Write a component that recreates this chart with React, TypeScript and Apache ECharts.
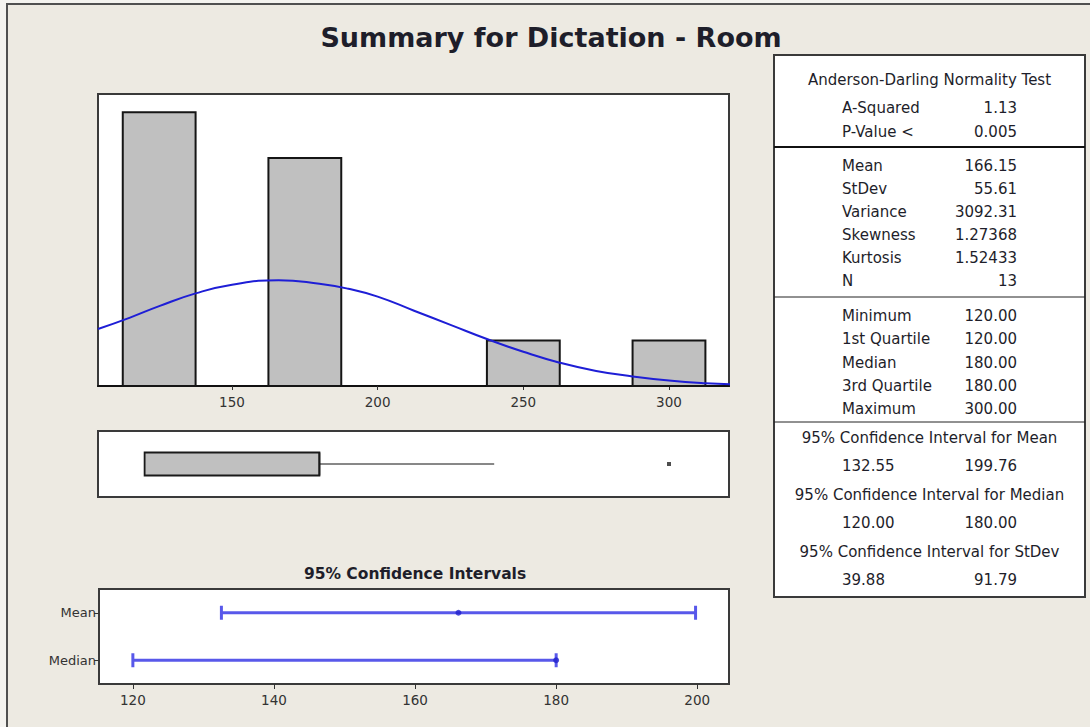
import React, { useEffect, useRef } from 'react';
import * as echarts from 'echarts';

// ---------- data ----------
const chartTitle = 'Summary for Dictation - Room';
const ciTitle = '95% Confidence Intervals';

const binLow = [112.5, 162.5, 237.5, 287.5];
const binHigh = [137.5, 187.5, 262.5, 312.5];
const binCounts = [6, 5, 1, 1];
const histTicks = [150, 200, 250, 300];

const curveX = [104, 115, 125, 137.5, 150, 166, 180, 190, 200, 212.5, 225, 237.5, 250, 262.5, 275, 287.5, 300, 312.5, 321];
const curveY = [1.25, 1.5, 1.75, 2.03, 2.22, 2.32, 2.24, 2.13, 1.96, 1.65, 1.34, 1.03, 0.75, 0.51, 0.33, 0.21, 0.12, 0.06, 0.04];

// whisker low, Q1, median, Q3, whisker high
const boxStats = [120, 120, 180, 180, 240];
const outliers = [300];

const ciLabels = ['Mean', 'Median'];
const ciLow = [132.55, 120];
const ciHigh = [199.76, 180];
const ciCenter = [166.15, 180];
const ciTicks = [120, 140, 160, 180, 200];

const adHeader = 'Anderson-Darling Normality Test';
const adLabels = ['A-Squared', 'P-Value <'];
const adValues = ['1.13', '0.005'];
const momentLabels = ['Mean', 'StDev', 'Variance', 'Skewness', 'Kurtosis', 'N'];
const momentValues = ['166.15', '55.61', '3092.31', '1.27368', '1.52433', '13'];
const quantLabels = ['Minimum', '1st Quartile', 'Median', '3rd Quartile', 'Maximum'];
const quantValues = ['120.00', '120.00', '180.00', '180.00', '300.00'];
const ciTableHeaders = [
  '95% Confidence Interval for Mean',
  '95% Confidence Interval for Median',
  '95% Confidence Interval for StDev',
];
const ciTableLow = ['132.55', '120.00', '39.88'];
const ciTableHigh = ['199.76', '180.00', '91.79'];

// ---------- style ----------
const FONT = 'DejaVu Sans';
const TXT = '#1e1e2a';
const FRAME = '#3a3a3a';

function txt(text: string, x: number, y: number, align: string, size = 15, weight = 'normal') {
  return {
    type: 'text',
    x,
    y,
    silent: true,
    style: {
      text,
      fill: TXT,
      fontSize: size,
      fontFamily: FONT,
      fontWeight: weight,
      align,
      textAlign: align,
      verticalAlign: 'middle',
      textVerticalAlign: 'middle',
    },
  };
}

export default function App() {
  const ref = useRef<HTMLDivElement>(null);

  useEffect(() => {
    if (!ref.current) return;
    const chart = echarts.init(ref.current, undefined, { renderer: 'svg' });

    const tLeft = 774, tTop = 55, tRight = 1085, tBottom = 597;
    const labX = 842, valX = 1017, midX = (tLeft + tRight) / 2;

    const graphics: any[] = [
      { type: 'rect', shape: { x: 0, y: 0, width: 6, height: 727 }, style: { fill: '#F4F3EF' }, silent: true },
      { type: 'rect', shape: { x: 0, y: 0, width: 1090, height: 3 }, style: { fill: '#F4F3EF' }, silent: true },
      { type: 'rect', shape: { x: 7, y: 4, width: 1100, height: 740 }, style: { fill: 'none', stroke: '#505050', lineWidth: 2 }, silent: true },
      txt(chartTitle, 551, 37, 'center', 27, 'bold'),
      txt(ciTitle, 415, 574, 'center', 15.5, 'bold'),
      { type: 'rect', shape: { x: tLeft, y: tTop, width: tRight - tLeft, height: tBottom - tTop }, style: { fill: '#ffffff', stroke: FRAME, lineWidth: 2 }, silent: true },
      { type: 'line', shape: { x1: tLeft, y1: 147, x2: tRight, y2: 147 }, style: { stroke: '#111', lineWidth: 2 }, silent: true },
      { type: 'line', shape: { x1: tLeft, y1: 297, x2: tRight, y2: 297 }, style: { stroke: '#222', lineWidth: 1 }, silent: true },
      { type: 'line', shape: { x1: tLeft, y1: 422, x2: tRight, y2: 422 }, style: { stroke: '#222', lineWidth: 1 }, silent: true },
      txt(adHeader, midX, 80, 'center'),
    ];
    adLabels.forEach((l, i) => {
      graphics.push(txt(l, labX, 108 + i * 24, 'left'));
      graphics.push(txt(adValues[i], valX, 108 + i * 24, 'right'));
    });
    momentLabels.forEach((l, i) => {
      graphics.push(txt(l, labX, 166 + i * 23, 'left'));
      graphics.push(txt(momentValues[i], valX, 166 + i * 23, 'right'));
    });
    quantLabels.forEach((l, i) => {
      graphics.push(txt(l, labX, 316 + i * 23.3, 'left'));
      graphics.push(txt(quantValues[i], valX, 316 + i * 23.3, 'right'));
    });
    ciTableHeaders.forEach((h, i) => {
      const y = 438 + i * 57;
      graphics.push(txt(h, midX, y, 'center'));
      graphics.push(txt(ciTableLow[i], labX, y + 28, 'left'));
      graphics.push(txt(ciTableHigh[i], valX, y + 28, 'right'));
    });

    const gridBase = { show: true, backgroundColor: '#ffffff', borderColor: FRAME, borderWidth: 2 };
    const ciCats = [...ciLabels].reverse();

    const option: any = {
      animation: false,
      backgroundColor: '#EDEAE2',
      grid: [
        { ...gridBase, left: 98, top: 94, width: 631, height: 292 },
        { ...gridBase, left: 98, top: 431, width: 631, height: 66 },
        { ...gridBase, left: 99, top: 589, width: 630, height: 95 },
      ],
      xAxis: [
        {
          gridIndex: 0, type: 'value', min: 104, max: 320.6,
          axisLine: { show: true, lineStyle: { color: '#111', width: 2 } },
          axisTick: { show: true, customValues: histTicks, length: 4, lineStyle: { color: '#333' } },
          axisLabel: { customValues: histTicks, fontSize: 13.5, color: '#333', margin: 9, fontFamily: FONT },
          splitLine: { show: false },
        },
        { gridIndex: 1, type: 'value', min: 104, max: 320.6, show: false },
        {
          gridIndex: 2, type: 'value', min: 115.2, max: 204.5,
          axisLine: { show: true, lineStyle: { color: FRAME, width: 2 } },
          axisTick: { show: true, customValues: ciTicks, length: 5, lineStyle: { color: '#333' } },
          axisLabel: { customValues: ciTicks, fontSize: 13.5, color: '#333', margin: 9, fontFamily: FONT },
          splitLine: { show: false },
        },
      ],
      yAxis: [
        { gridIndex: 0, type: 'value', min: 0, max: 6.4, show: false },
        { gridIndex: 1, type: 'value', min: 0, max: 1, show: false },
        {
          gridIndex: 2, type: 'category', data: ciCats,
          axisLine: { show: true, lineStyle: { color: FRAME, width: 2 } },
          axisTick: { show: true, alignWithLabel: true, length: 5, lineStyle: { color: '#333' } },
          axisLabel: { fontSize: 13, color: '#333', margin: 3, fontFamily: FONT },
          splitLine: { show: false },
        },
      ],
      graphic: graphics,
      series: [
        {
          type: 'custom', xAxisIndex: 0, yAxisIndex: 0, z: 2,
          data: binLow.map((lo, i) => [lo, binHigh[i], binCounts[i]]),
          encode: { x: [0, 1], y: 2 },
          renderItem: (_p: any, api: any) => {
            const a = api.coord([api.value(0), api.value(2)]);
            const b = api.coord([api.value(1), 0]);
            return {
              type: 'rect',
              shape: { x: a[0], y: a[1], width: b[0] - a[0], height: b[1] - a[1] },
              style: { fill: '#c0c0c0', stroke: '#151515', lineWidth: 2 },
            };
          },
        },
        {
          type: 'line', xAxisIndex: 0, yAxisIndex: 0, z: 5,
          data: curveX.map((x, i) => [x, curveY[i]]),
          smooth: true, showSymbol: false, symbol: 'none', clip: true,
          lineStyle: { color: '#1e1ed6', width: 2 },
        },
        {
          type: 'custom', xAxisIndex: 1, yAxisIndex: 1,
          data: [[...boxStats, 0.5]],
          encode: { x: [0, 1, 2, 3, 4], y: 5 },
          renderItem: (_p: any, api: any) => {
            const y = api.value(5);
            const lo = api.coord([api.value(0), y]);
            const q1 = api.coord([api.value(1), y]);
            const med = api.coord([api.value(2), y]);
            const q3 = api.coord([api.value(3), y]);
            const hi = api.coord([api.value(4), y]);
            const h = 11.5;
            return {
              type: 'group',
              children: [
                { type: 'line', shape: { x1: lo[0], y1: lo[1], x2: q1[0], y2: q1[1] }, style: { stroke: '#111', lineWidth: 1 } },
                { type: 'line', shape: { x1: q3[0], y1: q3[1], x2: hi[0], y2: hi[1] }, style: { stroke: '#111', lineWidth: 1 } },
                { type: 'rect', shape: { x: q1[0], y: q1[1] - h, width: q3[0] - q1[0], height: 2 * h }, style: { fill: '#c0c0c0', stroke: '#1a1a1a', lineWidth: 1.8 } },
                { type: 'line', shape: { x1: med[0], y1: med[1] - h, x2: med[0], y2: med[1] + h }, style: { stroke: '#1a1a1a', lineWidth: 1.8 } },
              ],
            };
          },
        },
        {
          type: 'scatter', xAxisIndex: 1, yAxisIndex: 1,
          data: outliers.map((v) => [v, 0.5]),
          symbol: 'rect', symbolSize: 4, itemStyle: { color: '#222' },
        },
        {
          type: 'custom', xAxisIndex: 2, yAxisIndex: 2,
          data: ciLabels.map((_l, i) => [ciLow[i], ciHigh[i], ciLabels.length - 1 - i]),
          encode: { x: [0, 1], y: 2 },
          renderItem: (_p: any, api: any) => {
            const a = api.coord([api.value(0), api.value(2)]);
            const b = api.coord([api.value(1), api.value(2)]);
            const c = 7;
            const st = { stroke: '#5858ea', lineWidth: 3 };
            return {
              type: 'group',
              children: [
                { type: 'line', shape: { x1: a[0], y1: a[1], x2: b[0], y2: b[1] }, style: st },
                { type: 'line', shape: { x1: a[0], y1: a[1] - c, x2: a[0], y2: a[1] + c }, style: st },
                { type: 'line', shape: { x1: b[0], y1: b[1] - c, x2: b[0], y2: b[1] + c }, style: st },
              ],
            };
          },
        },
        {
          type: 'scatter', xAxisIndex: 2, yAxisIndex: 2, z: 5,
          data: ciLabels.map((_l, i) => [ciCenter[i], ciLabels.length - 1 - i]),
          symbol: 'circle', symbolSize: 6, itemStyle: { color: '#2020cc' },
        },
      ],
    };

    chart.setOption(option);
    return () => chart.dispose();
  }, []);

  return <div ref={ref} style={{ position: 'fixed', left: 0, top: 0, width: 1090, height: 727 }} />;
}
